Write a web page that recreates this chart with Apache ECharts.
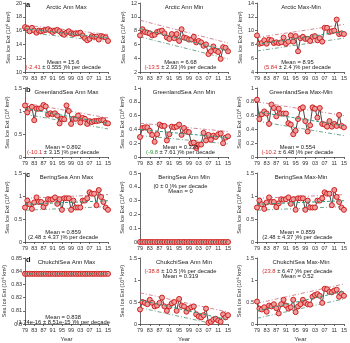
<!DOCTYPE html>
<html>
<head>
<meta charset="utf-8">
<script src="https://cdn.jsdelivr.net/npm/echarts@6/dist/echarts.min.js"></script>
<style>
  html, body { margin: 0; padding: 0; background: #fff; }
  #chart { width: 350px; height: 343px; }
</style>
</head>
<body>
<div id="chart"></div>
<script>
// years 1979-2015
const years = ['1979','1980','1981','1982','1983','1984','1985','1986','1987','1988','1989','1990',
  '1991','1992','1993','1994','1995','1996','1997','1998','1999','2000','2001','2002','2003','2004',
  '2005','2006','2007','2008','2009','2010','2011','2012','2013','2014','2015'];

const titles = ['Arctic Ann Max', 'Arctic Ann Min', 'Arctic Max-Min',
  'GreenlandSea Ann Max', 'GreenlandSea Ann Min', 'GreenlandSea Max-Min',
  'BeringSea Ann Max', 'BeringSea Ann Min', 'BeringSea Max-Min',
  'ChukchiSea Ann Max', 'ChukchiSea Ann Min', 'ChukchiSea Max-Min'];
const panelLetters = ['a', 'b', 'c', 'd'];

// series values (10^6 km^2)
const arcticMax = [16.5,16.3,15.9,16.4,16.0,15.7,16.0,15.9,16.0,16.1,16.2,16.0,15.8,16.0,16.1,15.9,15.6,15.4,15.7,
  15.9,15.6,15.5,15.6,15.6,15.7,15.3,14.9,14.6,14.8,15.2,15.1,15.1,14.7,15.2,15.1,15.0,14.5];
const arcticMin = [7.3,8.2,7.8,7.7,7.6,7.3,7.4,7.8,7.9,8.0,7.6,7.0,6.8,7.5,6.9,7.5,6.5,8.2,7.0,
  6.9,6.7,6.7,7.1,6.3,6.5,6.3,5.8,6.0,4.6,5.0,5.7,5.1,4.9,3.9,5.6,5.5,5.0];
const arcticRange = [9.3,8.1,8.2,8.6,8.1,8.7,8.6,8.2,8.3,8.2,8.3,9.0,8.1,8.4,9.3,8.4,9.2,7.0,8.9,
  9.1,8.8,8.8,8.5,9.1,9.2,8.6,8.9,8.4,10.4,10.4,9.8,9.9,10.0,11.6,9.5,9.6,9.5];
const greenlandMax = [1.12,0.97,1.05,1.09,0.80,1.05,1.05,1.06,1.13,1.10,0.92,0.95,0.93,0.95,0.90,0.73,0.83,0.82,1.12,
  1.00,0.72,0.83,0.83,0.90,0.75,0.85,0.83,0.72,0.78,0.76,0.78,0.78,0.79,0.80,0.80,0.74,0.73];
const greenlandMin = [0.29,0.42,0.43,0.43,0.38,0.32,0.22,0.33,0.47,0.45,0.45,0.24,0.33,0.44,0.43,0.44,0.47,0.32,0.42,
  0.37,0.36,0.20,0.21,0.13,0.18,0.18,0.35,0.24,0.32,0.25,0.31,0.29,0.33,0.34,0.20,0.28,0.30];
const greenlandRange = [0.83,0.55,0.62,0.66,0.63,0.48,0.76,0.71,0.59,0.70,0.63,0.63,0.63,0.49,0.47,0.33,0.38,0.55,0.70,
  0.72,0.52,0.37,0.46,0.72,0.70,0.57,0.71,0.48,0.47,0.44,0.52,0.44,0.48,0.45,0.61,0.45,0.43];
const beringMax = [0.75,0.90,0.82,0.72,0.86,0.97,0.87,0.87,0.76,0.84,0.93,0.92,0.93,0.97,0.83,0.93,0.70,0.95,0.95,
  0.95,0.70,0.90,0.75,0.75,0.75,0.90,0.90,0.95,1.08,1.05,1.05,0.80,1.13,0.98,0.87,0.75,0.70];
const beringMin = [0,0,0,0,0,0,0,0,0,0,0,0,0,0,0,0,0,0,0,0,0,0,0,0,0,0,0,0,0,0,0,0,0,0,0,0,0];
const beringRange = [0.75,0.90,0.82,0.72,0.86,0.97,0.87,0.87,0.76,0.84,0.93,0.92,0.93,0.97,0.83,0.93,0.70,0.95,0.95,
  0.95,0.70,0.90,0.75,0.75,0.75,0.90,0.90,0.95,1.08,1.05,1.05,0.80,1.13,0.98,0.87,0.75,0.70];
const chukchiMax = [0.838,0.838,0.838,0.838,0.838,0.838,0.838,0.838,0.838,0.838,0.838,0.838,0.838,0.838,0.838,0.838,
  0.838,0.838,0.838,0.838,0.838,0.838,0.838,0.838,0.838,0.838,0.838,0.838,0.838,0.838,0.838,0.838,0.838,0.838,0.838,0.838,0.838];
const chukchiMin = [0.33,0.50,0.48,0.45,0.55,0.48,0.40,0.42,0.48,0.60,0.40,0.30,0.40,0.47,0.50,0.30,0.57,0.42,0.40,
  0.28,0.35,0.38,0.40,0.22,0.17,0.15,0.20,0.35,0.03,0.05,0.10,0.12,0.08,0.05,0.22,0.15,0.20];
const chukchiRange = [0.51,0.35,0.33,0.38,0.28,0.42,0.40,0.45,0.36,0.24,0.45,0.55,0.42,0.35,0.38,0.55,0.27,0.40,0.45,
  0.55,0.48,0.45,0.44,0.62,0.66,0.68,0.64,0.48,0.80,0.79,0.73,0.72,0.76,0.78,0.62,0.69,0.64];

const values = [arcticMax, arcticMin, arcticRange, greenlandMax, greenlandMin, greenlandRange,
  beringMax, beringMin, beringRange, chukchiMax, chukchiMin, chukchiRange];

// fitted trend at 1979 and 2015, and the dash-dot bounds
const trendEnds = [[16.28,14.92],[8.3,5.05],[8.01,9.89],[1.054,0.73],[0.398,0.279],[0.656,0.453],
  [0.82,0.897],[0,0],[0.82,0.897],[0.838,0.838],[0.542,0.096],[0.297,0.743]];
const upperEnds = [[16.8,15.45],[9.5,6.2],[9.0,10.9],[1.17,0.85],[0.49,0.37],[0.80,0.60],
  [0.95,1.03],[0,0],[0.95,1.03],[0.838,0.838],[0.71,0.27],[0.47,0.91]];
const lowerEnds = [[15.75,14.4],[7.1,3.9],[7.05,8.9],[0.93,0.61],[0.31,0.19],[0.52,0.31],
  [0.69,0.77],[0,0],[0.69,0.77],[0.838,0.838],[0.37,-0.07],[0.13,0.57]];

const meanLabels = ['15.6','6.68','8.95','0.892','0.338','0.554','0.859','0','0.859','0.838','0.319','0.52'];
const rateLabels = ['-2.41','-13.5','5.84','-10.1','-9.8','-10.2','2.48','0','2.48','1.74e-16','-38.8','23.8'];
const errLabels = ['0.555','2.93','2.4','3.15','7.61','6.48','4.37','0','4.37','8.51e-15','10.5','6.47'];
const rateTone = ['r','r','r','r','g','r','k','k','k','k','r','r'];

// y axis ranges [min, max, step]
const yRanges = [[10,20,2],[2,12,2],[4,14,2],[0,1.5,0.5],[0,1,0.2],[0,1,0.2],
  [0,1.5,0.5],[0,0.5,0.1],[0,1.5,0.5],[0.8,0.85,0.01],[0,1.5,0.5],[0,1.5,0.5]];
const textOnTop = [false,false,false,false,false,false,false,true,false,false,true,true];

// layout
const colLeft = [25, 140, 257];
const colWidth = [83, 88, 88];
const rowTop = [3, 88, 173, 258];
const plotH = 69;
const FONT = 'Liberation Sans';

const chart = echarts.init(document.getElementById('chart'));

const grid = [], xAxis = [], yAxis = [], series = [], title = [];

values.forEach((vals, i) => {
  const r = Math.floor(i / 3), c = i % 3;
  const left = colLeft[c], top = rowTop[r], w = colWidth[c];
  grid.push({ left: left, top: top, width: w, height: plotH });

  xAxis.push({
    type: 'category', gridIndex: i, data: years, boundaryGap: false,
    name: r === 3 ? 'Year' : '', nameLocation: 'middle', nameGap: 12,
    nameTextStyle: { fontSize: 6, fontFamily: FONT, color: '#333' },
    axisLine: { lineStyle: { color: '#444', width: 0.8 } },
    axisTick: { interval: 3, length: 2, lineStyle: { color: '#444', width: 0.8 } },
    axisLabel: { interval: 3, fontSize: 5.5, fontFamily: FONT, color: '#333', margin: 3,
      formatter: v => v.slice(2) },
    splitLine: { show: false }
  });

  const yr = yRanges[i];
  yAxis.push({
    type: 'value', gridIndex: i, min: yr[0], max: yr[1], interval: yr[2],
    name: 'Sea Ice Ext (10\u2076 km\u00B2)', nameLocation: 'middle', nameGap: 13,
    nameTextStyle: { fontSize: 5.5, fontFamily: FONT, color: '#333' },
    axisLine: { show: true, lineStyle: { color: '#444', width: 0.8 } },
    axisTick: { show: true, length: 2, lineStyle: { color: '#444', width: 0.8 } },
    axisLabel: { fontSize: 5.5, fontFamily: FONT, color: '#333', margin: 3 },
    splitLine: { show: false }
  });

  series.push({
    type: 'line', xAxisIndex: i, yAxisIndex: i, data: vals,
    symbol: 'circle', symbolSize: 5, showAllSymbol: true,
    lineStyle: { color: '#1a1a1a', width: 0.8 },
    itemStyle: { color: '#ee9c9c', borderColor: '#d02020', borderWidth: 1 },
    z: 3, animation: false
  });
  series.push({
    type: 'line', xAxisIndex: i, yAxisIndex: i, symbol: 'none',
    data: [[years[0], trendEnds[i][0]], [years[36], trendEnds[i][1]]],
    lineStyle: { color: '#2f9e7e', width: 1, type: [3, 2] }, z: 4, animation: false
  });
  series.push({
    type: 'line', xAxisIndex: i, yAxisIndex: i, symbol: 'none',
    data: [[years[0], upperEnds[i][0]], [years[36], upperEnds[i][1]]],
    lineStyle: { color: '#c46a78', width: 0.8, type: [4, 2, 1, 2] }, z: 2, animation: false
  });
  series.push({
    type: 'line', xAxisIndex: i, yAxisIndex: i, symbol: 'none',
    data: [[years[0], lowerEnds[i][0]], [years[36], lowerEnds[i][1]]],
    lineStyle: { color: '#4f8f72', width: 0.8, type: [4, 2, 1, 2] }, z: 2, animation: false
  });

  // panel title
  title.push({
    text: titles[i], left: left + w / 2, top: top + 4,
    textAlign: 'center', textVerticalAlign: 'middle', padding: 0,
    textStyle: { fontSize: 6, fontWeight: 'normal', fontFamily: FONT, color: '#222' }
  });

  const tone = { r: '#d42a2a', g: '#2e9a3e', k: '#222' }[rateTone[i]];
  const rateText = '{c|(' + rateLabels[i] + '} \u00B1 ' + errLabels[i] + ' )% per decade';
  const meanText = 'Mean = ' + meanLabels[i];
  const cx = left + w * 0.46;
  const rateY = textOnTop[i] ? top + 13 : top + 64;
  const meanY = textOnTop[i] ? top + 18 : top + 59;
  const ts = { fontSize: 5.8, fontWeight: 'normal', fontFamily: FONT, color: '#222',
    rich: { c: { fontSize: 5.8, fontFamily: FONT, color: tone } } };
  title.push({ text: meanText, left: cx, top: meanY, textAlign: 'center', textVerticalAlign: 'middle',
    padding: 0, textStyle: ts });
  title.push({ text: rateText, left: cx, top: rateY, textAlign: 'center', textVerticalAlign: 'middle',
    padding: 0, textStyle: ts });
});

panelLetters.forEach((l, r) => {
  title.push({
    text: l, left: colLeft[0] + 1, top: rowTop[r] + 2, textVerticalAlign: 'middle', padding: 0,
    textStyle: { fontSize: 7.5, fontWeight: 'bold', fontFamily: FONT, color: '#111' }
  });
});

chart.setOption({
  animation: false,
  backgroundColor: '#fff',
  title: title,
  grid: grid,
  xAxis: xAxis,
  yAxis: yAxis,
  series: series
});
</script>
</body>
</html>
